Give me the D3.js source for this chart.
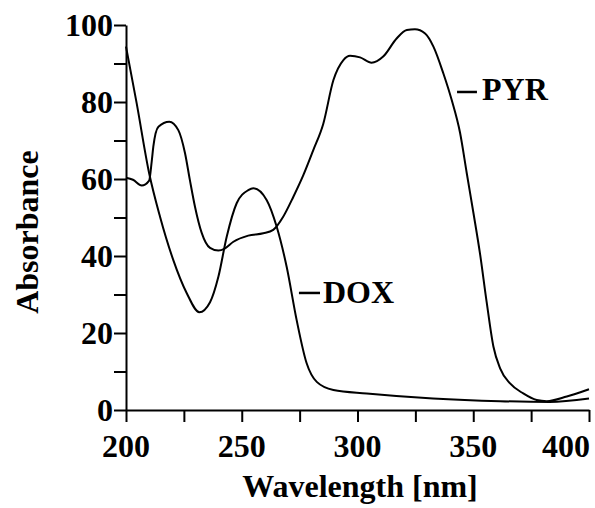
<!DOCTYPE html>
<html>
<head>
<meta charset="utf-8">
<script src="https://cdn.jsdelivr.net/npm/d3@7"></script>
<style>
   body { margin: 0; background: #fff; }
   text { font-family: "Liberation Serif", "Times New Roman", serif; font-weight: bold; fill: #000; }
</style>
</head>
<body>
<div id="chartDiv"></div>
<script>
//----------------------------------------------------------------------------------------------------
// absorbance spectra
var pyrWavelength = [200, 203, 206.8, 210, 211.1, 211.8, 214, 218.7, 222.6, 225.5, 227.6, 229.8,
                     232.7, 236.3, 239.9, 242.8, 246.4, 252.8, 259.3, 263.6, 267.9, 272.3, 276.6,
                     280.9, 285.2, 289.6, 293.9, 296.8, 301.1, 306.1, 311.1, 316.9, 321.3, 324.8,
                     329.2, 332.8, 337.1, 340.7, 344.3, 347.2, 350.1, 352.9, 355.8, 358.7, 361.6,
                     365.9, 371.6, 377.4, 381.7, 390.4, 400];
var pyrAbsorbance = [60.3, 59.8, 58.3, 59.6, 64.5, 68.4, 73.6, 74.9, 72.7, 66.7, 59.7, 52.8,
                     46, 42.1, 41.4, 42, 43.7, 45.3, 45.9, 46.8, 50.2, 55.4, 61,
                     67.5, 74.3, 85.7, 90.9, 92, 91.6, 90.2, 91.8, 96.5, 98.7, 98.9,
                     97.8, 94.4, 87.4, 80.5, 72, 61.5, 51.1, 40.7, 28, 16.5, 10.8,
                     6.9, 4.3, 2.6, 2.3, 3.5, 5.4];

var doxWavelength = [200, 204.6, 210, 214.7, 220.4, 226.2, 231.7, 236.3, 239.9, 243.5, 247.8,
                     252.8, 255, 260.8, 265.1, 269.4, 273.7, 278, 282.4, 289.6, 304, 332.6,
                     361.6, 383, 400];
var doxAbsorbance = [94.4, 79.7, 61.5, 50.2, 39, 30.4, 25.4, 28, 34.6, 45, 53.7,
                     57.1, 57.6, 54.5, 47.6, 37.2, 23.4, 12.2, 7.3, 5.2, 4.3, 3.0,
                     2.3, 2.1, 3.0];

var xTicks = [200, 250, 300, 350, 400];
var xMinorTicks = [225, 275, 325, 375];
var yTicks = [0, 20, 40, 60, 80, 100];
var yMinorTicks = [10, 30, 50, 70, 90];

var seriesNames = ["PYR", "DOX"];
//----------------------------------------------------------------------------------------------------
var width = 595;
var height = 508;
var tickLen = 12;
var fontSize = 32;

var xScale = d3.scaleLinear().domain([200, 400]).range([126, 589]);
var yScale = d3.scaleLinear().domain([0, 100]).range([410, 25]);

var svg = d3.select("#chartDiv")
    .append("svg")
    .attr("width", width)
    .attr("height", height);

function toPoints(xs, ys)
{
   var pts = [];
   for(var i=0; i < xs.length; i++)
      pts.push({x: xs[i], y: ys[i]});
   return pts;

} // toPoints

var line = d3.line()
    .x(function(d){ return xScale(d.x); })
    .y(function(d){ return yScale(d.y); })
    .curve(d3.curveMonotoneX);

var spectra = [toPoints(pyrWavelength, pyrAbsorbance), toPoints(doxWavelength, doxAbsorbance)];

svg.selectAll("path.spectrum")
   .data(spectra)
   .enter()
   .append("path")
   .attr("class", "spectrum")
   .attr("d", line)
   .attr("fill", "none")
   .attr("stroke", "#000")
   .attr("stroke-width", 2);

   // axes: lines and ticks drawn by d3 axis generators, then labels placed by hand
var xAxis = d3.axisBottom(xScale)
    .tickValues(xTicks.concat(xMinorTicks))
    .tickSize(tickLen)
    .tickSizeOuter(0)
    .tickFormat("");

var yAxis = d3.axisLeft(yScale)
    .tickValues(yTicks.concat(yMinorTicks))
    .tickSize(tickLen)
    .tickSizeOuter(0)
    .tickFormat("");

var gx = svg.append("g")
    .attr("transform", "translate(0," + yScale(0) + ")")
    .call(xAxis);

var gy = svg.append("g")
    .attr("transform", "translate(" + xScale(200) + ",0)")
    .call(yAxis);

[gx, gy].forEach(function(g){
   g.select(".domain").attr("stroke", "#000").attr("stroke-width", 2);
   g.selectAll(".tick line").attr("stroke", "#000").attr("stroke-width", 2);
   });

svg.selectAll("text.xlabel")
   .data(xTicks)
   .enter()
   .append("text")
   .attr("class", "xlabel")
   .attr("x", function(d){ return d == 400 ? xScale(d) + 1 : xScale(d); })
   .attr("y", yScale(0) + 47)
   .attr("text-anchor", function(d){ return d == 400 ? "end" : "middle"; })
   .style("font-size", fontSize + "px")
   .text(function(d){ return d; });

svg.selectAll("text.ylabel")
   .data(yTicks)
   .enter()
   .append("text")
   .attr("class", "ylabel")
   .attr("x", xScale(200) - 13)
   .attr("y", function(d){ return yScale(d) + 11; })
   .attr("text-anchor", "end")
   .style("font-size", fontSize + "px")
   .text(function(d){ return d; });

svg.append("text")
   .attr("x", 360)
   .attr("y", 497)
   .attr("text-anchor", "middle")
   .style("font-size", fontSize + "px")
   .text("Wavelength [nm]");

svg.append("text")
   .attr("transform", "translate(38,232) rotate(-90)")
   .attr("text-anchor", "middle")
   .style("font-size", fontSize + "px")
   .text("Absorbance");

   // curve labels with their little leader dashes
var labelSpots = [{dash: [343, 351.6], dashY: 82.6, textX: 353.8, textY: 80.5},
                  {dash: [274.7, 283.8], dashY: 30.4, textX: 285.1, textY: 27.8}];

seriesNames.forEach(function(name, i){
   var s = labelSpots[i];
   svg.append("line")
      .attr("x1", xScale(s.dash[0])).attr("x2", xScale(s.dash[1]))
      .attr("y1", yScale(s.dashY)).attr("y2", yScale(s.dashY))
      .attr("stroke", "#000")
      .attr("stroke-width", 2.5);
   svg.append("text")
      .attr("x", xScale(s.textX))
      .attr("y", yScale(s.textY))
      .style("font-size", fontSize + "px")
      .text(name);
   });
//----------------------------------------------------------------------------------------------------
</script>
</body>
</html>
